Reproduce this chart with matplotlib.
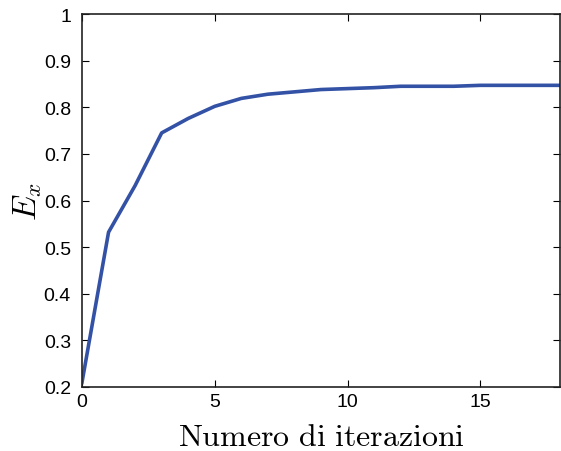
import matplotlib
matplotlib.use("Agg")
from matplotlib import pyplot as plt

plt.rcParams['font.family'] = ['Liberation Sans', 'DejaVu Sans']
plt.rcParams['mathtext.fontset'] = 'cm'

iterations = list(range(19))
ex_values = [0.21, 0.532, 0.632, 0.745, 0.776, 0.802, 0.819, 0.828, 0.833, 0.838,
             0.840, 0.842, 0.845, 0.845, 0.845, 0.847, 0.847, 0.847, 0.847]

fig = plt.figure(figsize=(5.61, 4.52), dpi=100)
ax = fig.add_axes([82 / 561, 1 - 388 / 452, (560 - 82) / 561, (388 - 15) / 452])

ax.plot(iterations, ex_values, color='#3352a6', linewidth=2.6)

ax.set_xlim(0, 18)
ax.set_ylim(0.2, 1)
ax.set_xticks([0, 5, 10, 15])
ax.set_yticks([0.2, 0.3, 0.4, 0.5, 0.6, 0.7, 0.8, 0.9, 1])
ax.set_yticklabels(['0.2', '0.3', '0.4', '0.5', '0.6', '0.7', '0.8', '0.9', '1'])
ax.tick_params(direction='in', top=True, right=True, labelsize=14, length=5, width=0.8)
ax.tick_params(axis='y', pad=8)
ax.tick_params(axis='x', pad=4)
for s in ax.spines.values():
    s.set_linewidth(1.2)
    s.set_color('#222222')

ax.set_xlabel(r'$\mathrm{Numero\ di\ iterazioni}$', fontsize=23, labelpad=9)
ax.set_ylabel(r'$E_x$', fontsize=24, labelpad=0)

fig.savefig('out.png', dpi=100)
